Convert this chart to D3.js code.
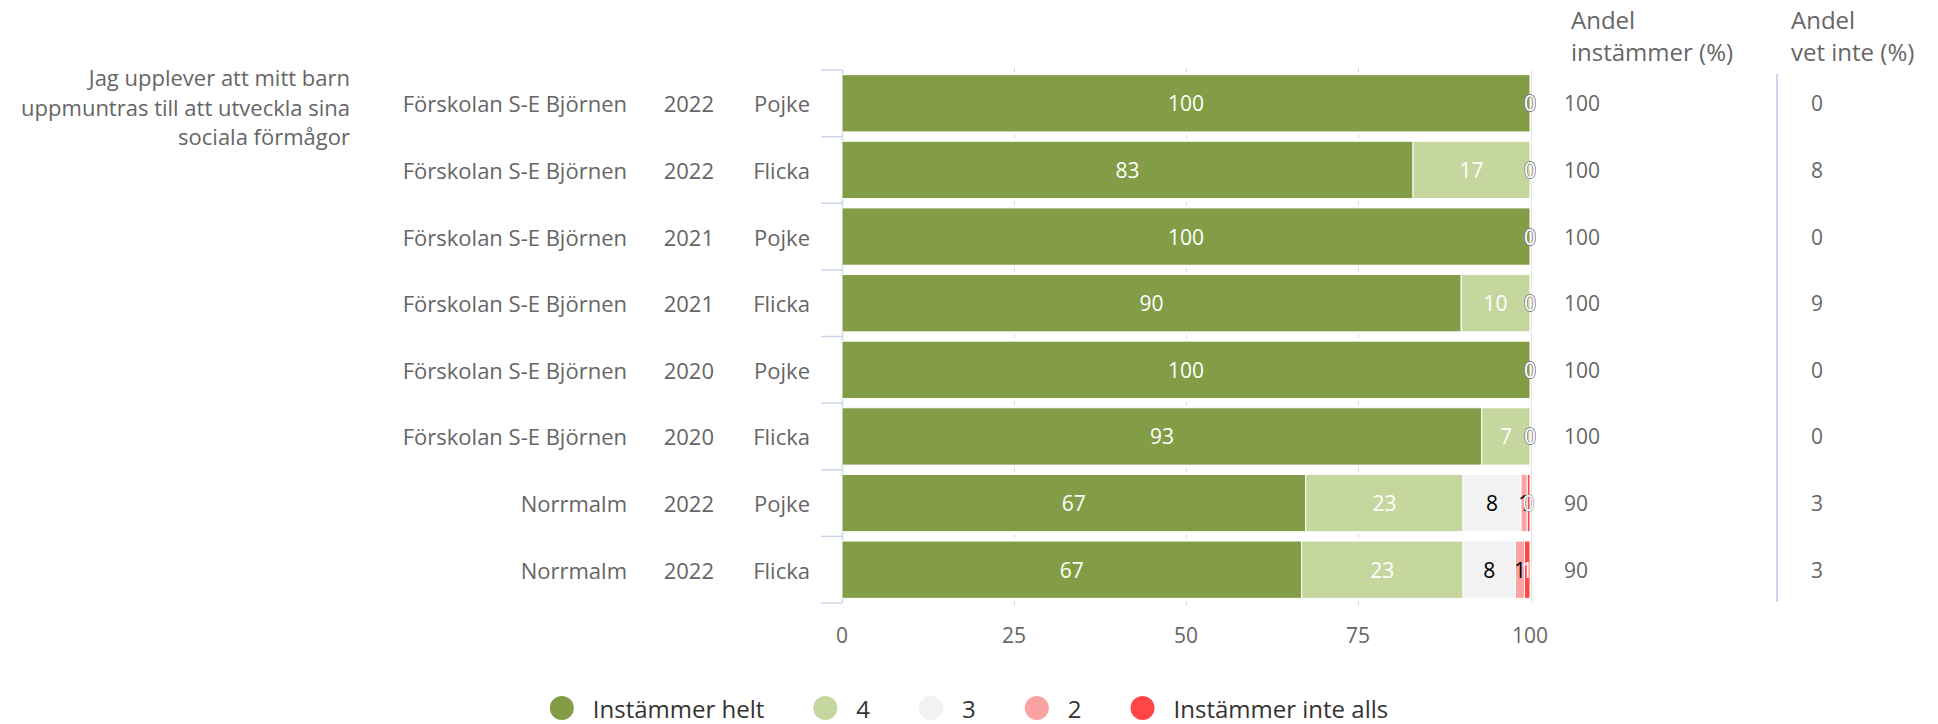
<!DOCTYPE html>
<html>
<head>
<meta charset="utf-8">
<script src="https://cdn.jsdelivr.net/npm/d3@7"></script>
<style>
  html, body { margin: 0; padding: 0; background: #fff; }
  svg text { font-family: "Open Sans", "Lato", sans-serif; }
</style>
</head>
<body>
<div id="chart"></div>
<script>
// data
const question = ["Jag upplever att mitt barn", "uppmuntras till att utveckla sina", "sociala förmågor"];
const units = ["Förskolan S-E Björnen", "Förskolan S-E Björnen", "Förskolan S-E Björnen", "Förskolan S-E Björnen",
               "Förskolan S-E Björnen", "Förskolan S-E Björnen", "Norrmalm", "Norrmalm"];
const years = ["2022", "2022", "2021", "2021", "2020", "2020", "2022", "2022"];
const genders = ["Pojke", "Flicka", "Pojke", "Flicka", "Pojke", "Flicka", "Pojke", "Flicka"];

const seriesNames = ["Instämmer helt", "4", "3", "2", "Instämmer inte alls"];
const seriesColors = ["#829d45", "#c5d79e", "#f2f2f2", "#fba3a3", "#ff4545"];
const labelColors = ["#fff", "#fff", "#000", "#000", "#fff"];

const instammerHelt = [100, 83, 100, 90, 100, 93, 67.2, 66.6];
const fyra          = [0, 17, 0, 10, 0, 7, 22.8, 23.4];
const tre           = [0, 0, 0, 0, 0, 0, 8.4, 7.6];
const tva           = [0, 0, 0, 0, 0, 0, 0.9, 1.3];
const inteAlls      = [0, 0, 0, 0, 0, 0, 0.4, 0.8];

const andelInstammer = [100, 100, 100, 100, 100, 100, 90, 90];
const andelVetInte   = [0, 8, 0, 9, 0, 0, 3, 3];

const xTicks = [0, 25, 50, 75, 100];

// layout
const W = 1938, H = 724;
const plot = {left: 842, right: 1530, top: 70, bottom: 603};

const rows = units.map((u, i) => {
  const r = {idx: i};
  [instammerHelt, fyra, tre, tva, inteAlls].forEach((arr, k) => r[seriesNames[k]] = arr[i]);
  return r;
});

const stacked = d3.stack().keys(seriesNames).offset(d3.stackOffsetExpand)(rows);

const x = d3.scaleLinear().domain([0, 100]).range([plot.left, plot.right]);
const y = d3.scaleBand().domain(d3.range(units.length)).range([plot.top, plot.bottom]);
const barH = y.bandwidth() * 0.86;

const svg = d3.select("#chart").append("svg")
  .attr("width", W).attr("height", H);

// grid: little marks at band boundaries, full line at 100
const marks = [];
xTicks.slice(1, -1).forEach(t => d3.range(units.length + 1).forEach(b => marks.push({t, b})));
svg.append("g").selectAll("line")
  .data(marks).enter().append("line")
  .attr("x1", d => x(d.t) + 0.5).attr("x2", d => x(d.t) + 0.5)
  .attr("y1", d => plot.top + d.b * y.step() - 2).attr("y2", d => plot.top + d.b * y.step() + 2)
  .attr("stroke", "#d9d9d9").attr("stroke-width", 1);

svg.append("line")
  .attr("x1", x(100) + 1.5).attr("x2", x(100) + 1.5)
  .attr("y1", plot.top).attr("y2", plot.bottom)
  .attr("stroke", "#e6e6e6").attr("stroke-width", 1);

// x axis labels
svg.append("g").selectAll("text")
  .data(xTicks).enter().append("text")
  .attr("x", d => x(d)).attr("y", 635)
  .attr("text-anchor", "middle").attr("dominant-baseline", "central")
  .style("font-size", "21px").style("fill", "#666")
  .text(d => d);

// category axis line + ticks
svg.append("line")
  .attr("x1", plot.left + 0.5).attr("x2", plot.left + 0.5)
  .attr("y1", plot.top).attr("y2", plot.bottom)
  .attr("stroke", "#ccd6eb").attr("stroke-width", 1.5);

svg.append("g").selectAll("line")
  .data(d3.range(units.length + 1)).enter().append("line")
  .attr("x1", plot.left - 21).attr("x2", plot.left)
  .attr("y1", d => plot.top + d * y.step()).attr("y2", d => plot.top + d * y.step())
  .attr("stroke", "#ccd6eb").attr("stroke-width", 1.5);

// bars
const layer = svg.append("g").selectAll("g")
  .data(stacked).enter().append("g")
  .attr("fill", (d, i) => seriesColors[i]);

layer.selectAll("rect")
  .data(d => d).enter().append("rect")
  .attr("x", d => x(d[0] * 100))
  .attr("width", d => Math.max(0, x(d[1] * 100) - x(d[0] * 100)))
  .attr("y", (d, i) => y(i) + (y.bandwidth() - barH) / 2)
  .attr("height", barH)
  .attr("stroke", "#fff").attr("stroke-width", 1);

// data labels
stacked.forEach((s, k) => {
  svg.append("g").selectAll("text")
    .data(s).enter().append("text")
    .attr("x", d => x((d[0] + d[1]) / 2 * 100))
    .attr("y", (d, i) => y(i) + y.bandwidth() / 2)
    .attr("text-anchor", "middle").attr("dominant-baseline", "central")
    .style("font-size", "21px")
    .style("fill", d => Math.round(d.data[seriesNames[k]]) === 0 ? "#fff" : labelColors[k])
    .style("stroke", d => Math.round(d.data[seriesNames[k]]) === 0 ? "#777" : "none")
    .style("stroke-width", 1)
    .style("paint-order", "stroke")
    .text(d => Math.round(d.data[seriesNames[k]]));
});

// row labels
const rowLabels = svg.append("g").style("font-size", "22px").style("fill", "#666")
  .attr("text-anchor", "end");
[[units, 627], [years, 714], [genders, 810]].forEach(([arr, xr]) => {
  rowLabels.append("g").selectAll("text")
    .data(arr).enter().append("text")
    .attr("x", xr).attr("y", (d, i) => y(i) + y.bandwidth() / 2)
    .attr("dominant-baseline", "central")
    .text(d => d);
});

// question
svg.append("g").selectAll("text")
  .data(question).enter().append("text")
  .attr("x", 350).attr("y", (d, i) => 77 + i * 29.5)
  .attr("text-anchor", "end").attr("dominant-baseline", "central")
  .style("font-size", "22px").style("fill", "#666")
  .text(d => d);

// right columns
const headers = [
  {x: 1571, lines: ["Andel", "instämmer (%)"], values: andelInstammer, vx: 1564},
  {x: 1791, lines: ["Andel", "vet inte (%)"], values: andelVetInte, vx: 1811}
];
headers.forEach(h => {
  svg.append("g").selectAll("text")
    .data(h.lines).enter().append("text")
    .attr("x", h.x).attr("y", (d, i) => 29 + i * 32)
    .style("font-size", "24px").style("fill", "#666")
    .text(d => d);
  svg.append("g").selectAll("text")
    .data(h.values).enter().append("text")
    .attr("x", h.vx).attr("y", (d, i) => y(i) + y.bandwidth() / 2)
    .attr("dominant-baseline", "central")
    .style("font-size", "21px").style("fill", "#666")
    .text(d => d);
});

svg.append("line")
  .attr("x1", 1777).attr("x2", 1777).attr("y1", 74).attr("y2", 602)
  .attr("stroke", "#ccd6eb").attr("stroke-width", 2);

// legend
const legend = svg.append("g");
const items = legend.selectAll("g").data(seriesNames).enter().append("g");
items.append("circle").attr("r", 12).attr("cy", 0).attr("cx", 12)
  .attr("fill", (d, i) => seriesColors[i]);
items.append("text").attr("x", 43).attr("y", 0)
  .attr("dominant-baseline", "central")
  .style("font-size", "24px").style("fill", "#333")
  .text(d => d);
let lx = 0;
items.each(function() {
  const g = d3.select(this);
  g.attr("transform", `translate(${lx},0)`);
  lx += 43 + g.select("text").node().getComputedTextLength() + 49;
});
lx -= 49;
legend.attr("transform", `translate(${(W - lx) / 2},708)`);
</script>
</body>
</html>
